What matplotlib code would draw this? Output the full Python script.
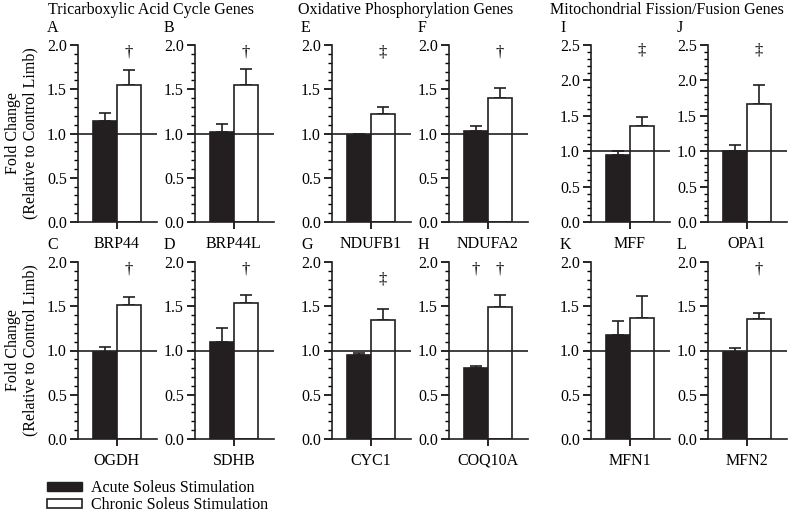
import matplotlib
matplotlib.use("Agg")
import matplotlib.pyplot as plt
from matplotlib.patches import Patch
from matplotlib.ticker import MultipleLocator, FormatStrFormatter

plt.rcParams["font.family"] = ["Liberation Serif", "DejaVu Serif"]
plt.rcParams["font.size"] = 11

# panels A-L
letters = ["A", "B", "C", "D", "E", "F", "G", "H", "I", "J", "K", "L"]
genes = ["BRP44", "BRP44L", "OGDH", "SDHB",
         "NDUFB1", "NDUFA2", "CYC1", "COQ10A",
         "MFF", "OPA1", "MFN1", "MFN2"]
acute_mean = [1.14, 1.02, 0.98, 1.10, 0.98, 1.03, 0.95, 0.80, 0.95, 1.00, 1.18, 0.98]
acute_sem = [0.09, 0.09, 0.06, 0.15, 0.02, 0.05, 0.025, 0.02, 0.05, 0.09, 0.155, 0.05]
chronic_mean = [1.55, 1.55, 1.51, 1.54, 1.22, 1.40, 1.34, 1.49, 1.35, 1.67, 1.37, 1.36]
chronic_sem = [0.17, 0.18, 0.09, 0.085, 0.08, 0.11, 0.125, 0.14, 0.14, 0.26, 0.25, 0.06]
y_max = [2.0, 2.0, 2.0, 2.0, 2.0, 2.0, 2.0, 2.0, 2.5, 2.5, 2.0, 2.0]
acute_sig = ["", "", "", "", "", "", "", "†", "", "", "", ""]
chronic_sig = ["†", "†", "†", "†", "‡", "†", "‡", "†", "‡", "‡", "", "†"]
sig_level = [1.92, 1.92, 1.92, 1.92, 1.92, 1.92, 1.80, 1.92, 2.42, 2.42, 1.92, 1.92]

group_titles = ["Tricarboxylic Acid Cycle Genes",
                "Oxidative Phosphorylation Genes",
                "Mitochondrial Fission/Fusion Genes"]
legend_labels = ["Acute Soleus Stimulation", "Chronic Soleus Stimulation"]

W, H = 793, 521
fig = plt.figure(figsize=(W / 100, H / 100), dpi=100)

# layout in pixels
col_left = [[78, 195], [332, 449], [591, 708]]
row_top = [45, 262]
ax_w, ax_h = 79, 177
title_x = [48, 298, 550]
ink = "#231f20"


def add_panel(i, left, top):
    ax = fig.add_axes([left / W, 1 - (top + ax_h) / H, ax_w / W, ax_h / H])
    ax.bar(1.125, acute_mean[i], width=1.0, color=ink, edgecolor=ink,
           linewidth=1.2, zorder=2)
    ax.bar(2.125, chronic_mean[i], width=1.0, color="white", edgecolor=ink,
           linewidth=1.2, zorder=2)
    for x, m, s in [(1.125, acute_mean[i], acute_sem[i]),
                    (2.125, chronic_mean[i], chronic_sem[i])]:
        ax.errorbar(x, m, yerr=[[0], [s]], fmt="none", ecolor=ink,
                    elinewidth=1.2, capsize=4, capthick=1.2, zorder=1)
    ax.axhline(1.0, color=ink, linewidth=1.2, zorder=3)
    if acute_sig[i]:
        ax.text(1.125, sig_level[i], acute_sig[i], ha="center", va="center", fontsize=12)
    if chronic_sig[i]:
        ax.text(2.125, sig_level[i], chronic_sig[i], ha="center", va="center", fontsize=12)
    ax.set_xlim(0, 3.3)
    ax.set_ylim(0, y_max[i])
    ax.yaxis.set_major_locator(MultipleLocator(0.5))
    ax.yaxis.set_minor_locator(MultipleLocator(0.1))
    ax.yaxis.set_major_formatter(FormatStrFormatter("%.1f"))
    ax.set_xticks([1.625])
    ax.set_xticklabels([genes[i]])
    ax.tick_params(axis="y", which="major", direction="out", length=6, width=1.2,
                   pad=2, labelsize=11.5)
    ax.tick_params(axis="y", which="minor", direction="out", length=3, width=1.0)
    ax.tick_params(axis="x", direction="out", length=5, width=1.2, pad=5, labelsize=11.5)
    for side in ("top", "right"):
        ax.spines[side].set_visible(False)
    for side in ("left", "bottom"):
        ax.spines[side].set_linewidth(1.2)
        ax.spines[side].set_color(ink)
    fig.text((left - 31) / W, 1 - (top - 17) / H, letters[i], ha="left", va="center",
             fontsize=11.5)
    return ax


for g in range(3):
    for r in range(2):
        for c in range(2):
            i = g * 4 + r * 2 + c
            add_panel(i, col_left[g][c], row_top[r])
    fig.text(title_x[g] / W, 1 - 10 / H, group_titles[g], ha="left", va="center",
             fontsize=11.5)

for r in range(2):
    fig.text(22 / W, 1 - (row_top[r] + ax_h / 2) / H,
             "Fold Change\n(Relative to Control Limb)",
             rotation=90, ha="center", va="center", linespacing=1.1, fontsize=11.5)

handles = [Patch(facecolor=ink, edgecolor=ink),
           Patch(facecolor="white", edgecolor=ink, linewidth=1.2)]
fig.legend(handles, legend_labels, loc="upper left", bbox_to_anchor=(47 / W, 1 - 480 / H),
           frameon=False, handlelength=2.2, handleheight=0.5, handletextpad=0.55,
           labelspacing=0.05, borderaxespad=0, borderpad=0, fontsize=11.5)

fig.savefig("out.png", dpi=100)
